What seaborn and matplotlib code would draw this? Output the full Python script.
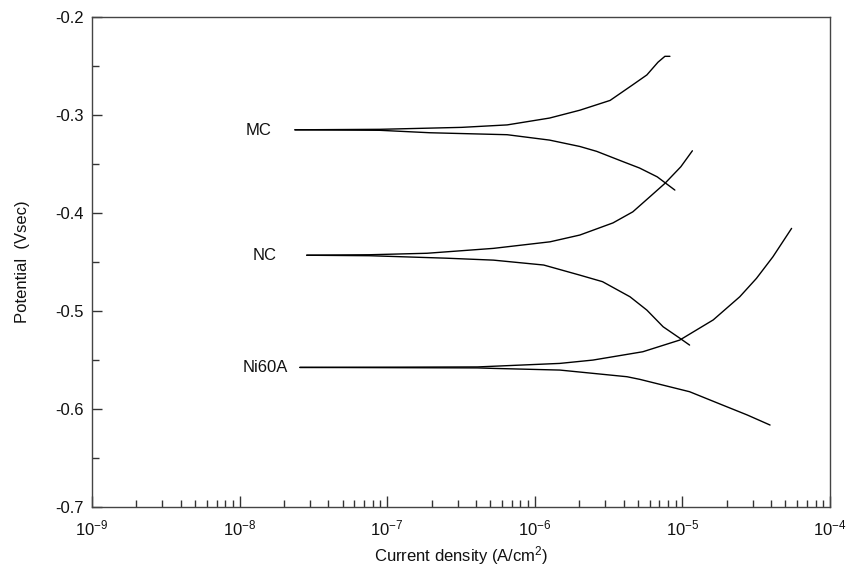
import numpy as np
import pandas as pd
import matplotlib
matplotlib.use("Agg")
import matplotlib.pyplot as plt
import matplotlib.ticker as mticker
import seaborn as sns

# Polarization curves (current density in A/cm2, potential in Vsec)
mc_anodic_i = [2.37e-8, 8.9e-8, 3.2e-7, 6.5e-7, 1.26e-6, 2.02e-6, 3.24e-6, 4.62e-6, 5.75e-6, 6.84e-6, 7.62e-6, 8.24e-6]
mc_anodic_e = [-0.315, -0.3145, -0.3125, -0.310, -0.303, -0.295, -0.285, -0.269, -0.259, -0.246, -0.240, -0.240]
mc_cathodic_i = [2.37e-8, 8.9e-8, 1.95e-7, 6.5e-7, 1.26e-6, 2.02e-6, 2.63e-6, 3.98e-6, 5.13e-6, 6.76e-6, 8.9e-6]
mc_cathodic_e = [-0.315, -0.3155, -0.318, -0.320, -0.3255, -0.332, -0.337, -0.3476, -0.354, -0.363, -0.3765]

nc_anodic_i = [2.85e-8, 7.6e-8, 1.86e-7, 5.25e-7, 1.27e-6, 2.02e-6, 3.39e-6, 4.62e-6, 6.03e-6, 7.62e-6, 9.77e-6, 1.17e-5]
nc_anodic_e = [-0.443, -0.4425, -0.441, -0.436, -0.4293, -0.4224, -0.410, -0.3987, -0.3833, -0.3697, -0.3527, -0.3364]
nc_cathodic_i = [2.85e-8, 7.6e-8, 2.5e-7, 5.25e-7, 1.15e-6, 2.02e-6, 2.88e-6, 4.42e-6, 5.75e-6, 7.41e-6, 9.6e-6, 1.12e-5]
nc_cathodic_e = [-0.443, -0.4435, -0.446, -0.448, -0.453, -0.4633, -0.470, -0.4854, -0.499, -0.516, -0.5276, -0.5347]

ni_anodic_i = [2.56e-8, 4.1e-7, 1.48e-6, 2.48e-6, 5.4e-6, 9.6e-6, 1.62e-5, 2.45e-5, 3.18e-5, 4.11e-5, 5.5e-5]
ni_anodic_e = [-0.5575, -0.557, -0.5534, -0.550, -0.5415, -0.5296, -0.509, -0.4854, -0.4666, -0.4446, -0.4156]
ni_cathodic_i = [2.56e-8, 4.1e-7, 5.25e-7, 1.48e-6, 4.22e-6, 5.16e-6, 1.12e-5, 1.88e-5, 2.75e-5, 3.93e-5]
ni_cathodic_e = [-0.5575, -0.558, -0.5585, -0.5602, -0.567, -0.5697, -0.5823, -0.596, -0.606, -0.6163]

labels = ["MC", "NC", "Ni60A"]
label_i = [1.65e-8, 1.78e-8, 2.13e-8]
label_e = [-0.316, -0.443, -0.5575]

x_ticks = [1e-9, 1e-8, 1e-7, 1e-6, 1e-5, 1e-4]
y_ticks = [-0.7, -0.6, -0.5, -0.4, -0.3, -0.2]

branches = {
    ("MC", "anodic"): (mc_anodic_i, mc_anodic_e),
    ("MC", "cathodic"): (mc_cathodic_i, mc_cathodic_e),
    ("NC", "anodic"): (nc_anodic_i, nc_anodic_e),
    ("NC", "cathodic"): (nc_cathodic_i, nc_cathodic_e),
    ("Ni60A", "anodic"): (ni_anodic_i, ni_anodic_e),
    ("Ni60A", "cathodic"): (ni_cathodic_i, ni_cathodic_e),
}

sns.set_style("white")
plt.rcParams["font.family"] = ["Liberation Sans", "DejaVu Sans"]
plt.rcParams["mathtext.default"] = "regular"
plt.rcParams["axes.unicode_minus"] = False

fig = plt.figure(figsize=(8.6, 5.71), dpi=100)
ax = fig.add_axes([0.107, 0.112, 0.858, 0.858])

for (name, br), (i_vals, e_vals) in branches.items():
    sns.lineplot(x=i_vals, y=e_vals, sort=False, estimator=None, color="black",
                 linewidth=1.0, ax=ax)

for txt, xi, ye in zip(labels, label_i, label_e):
    ax.text(xi, ye, txt, ha="right", va="center", fontsize=12, color="#111111")

ax.set_xscale("log")
ax.set_xlim(1e-9, 1e-4)
ax.set_ylim(-0.7, -0.2)
ax.set_yticks(y_ticks)
ax.yaxis.set_minor_locator(mticker.MultipleLocator(0.05))
ax.yaxis.set_major_formatter(mticker.FormatStrFormatter("%.1f"))
ax.set_xticks(x_ticks)
ax.xaxis.set_minor_locator(mticker.LogLocator(base=10, subs=np.arange(2, 10), numticks=10))
ax.xaxis.set_major_formatter(mticker.LogFormatterSciNotation())
ax.xaxis.set_minor_formatter(mticker.NullFormatter())

ax.tick_params(axis="both", which="both", direction="in", top=False, right=False,
               bottom=True, left=True, labelsize=12, color="#333333", width=1.0,
               labelcolor="#111111")
ax.tick_params(axis="x", which="major", length=8, pad=8)
ax.tick_params(axis="x", which="minor", length=5)
ax.tick_params(axis="y", which="major", length=7, pad=6)
ax.tick_params(axis="y", which="minor", length=5)

for sp in ax.spines.values():
    sp.set_color("#444444")
    sp.set_linewidth(1.0)

ax.set_xlabel("Current density (A/cm$^2$)", fontsize=12, labelpad=4, color="#111111")
ax.set_ylabel("Potential  (Vsec)", fontsize=12, labelpad=18, color="#111111")

fig.savefig("out.png", dpi=100)
